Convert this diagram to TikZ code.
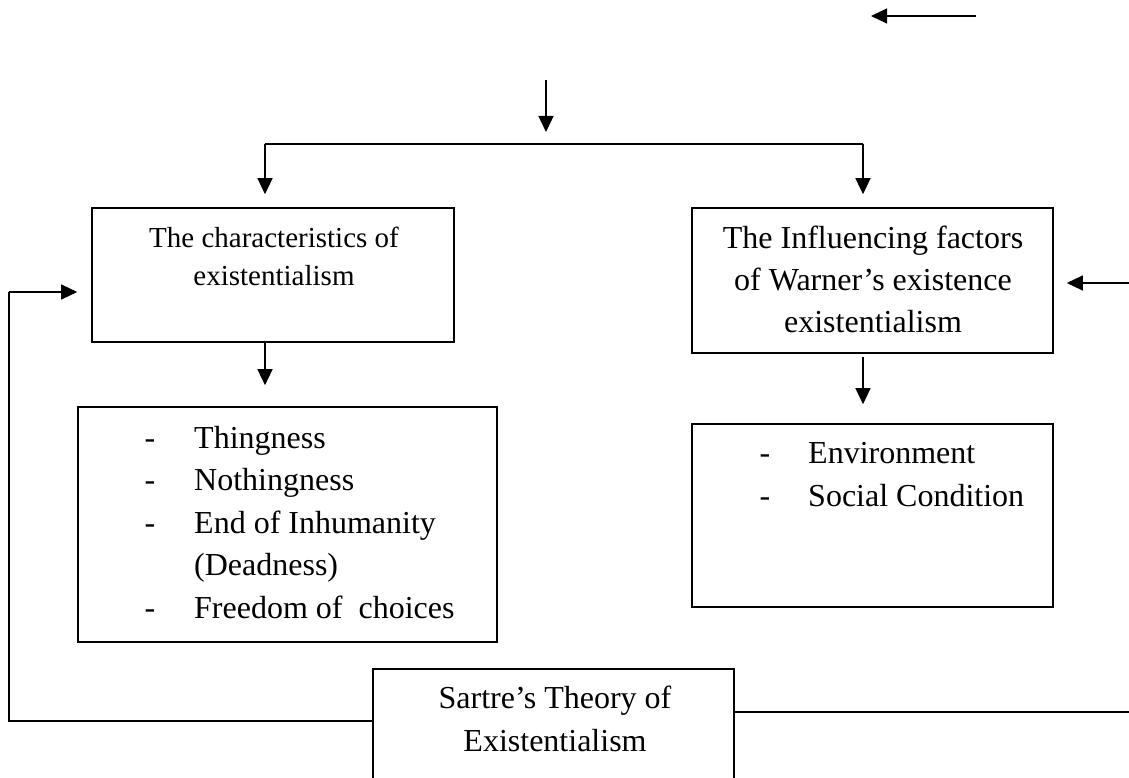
\documentclass[tikz,border=0pt]{standalone}
\usepackage{fontspec}
\setmainfont{Liberation Serif}
\usetikzlibrary{arrows.meta}
\begin{document}
\begin{tikzpicture}[x=1pt,y=-1pt,
  boxstyle/.style={draw,line width=1.6pt,inner sep=0pt,rectangle},
  conn/.style={line width=1.3pt},
  arr/.style={conn,-{Triangle[length=16pt,width=15pt]}},
  smalltxt/.style={inner sep=0pt,font=\fontsize{29}{39}\selectfont},
  bigtxt/.style={inner sep=0pt,font=\fontsize{32}{42}\selectfont}]
\useasboundingbox (0,0) rectangle (1129,778);
\clip (0,0) rectangle (1129,778);
% boxes
\node[boxstyle,minimum width=362pt,minimum height=134pt] (box1) at (273,275) {};
\node[boxstyle,minimum width=361pt,minimum height=145pt] (box2) at (872.5,280.5) {};
\node[boxstyle,minimum width=419pt,minimum height=235pt] (box3) at (287.5,524.5) {};
\node[boxstyle,minimum width=361pt,minimum height=183pt] (box4) at (872.5,515.5) {};
\node[boxstyle,minimum width=361pt,minimum height=140pt] (box5) at (553.5,739) {};
% texts box1
\node[smalltxt,anchor=base] (t1a) at (274,247) {The characteristics of};
\node[smalltxt,anchor=base] (t1b) at (274,285.5) {existentialism};
% texts box2
\node[bigtxt,anchor=base] (t2a) at (873,248) {The Influencing factors};
\node[bigtxt,anchor=base] (t2b) at (873,290) {of Warner’s existence};
\node[bigtxt,anchor=base] (t2c) at (873,332) {existentialism};
% texts box3
\node[bigtxt,anchor=base] (d3a) at (150,448) {-};
\node[bigtxt,anchor=base west] (t3a) at (194,448) {Thingness};
\node[bigtxt,anchor=base] (d3b) at (150,490.5) {-};
\node[bigtxt,anchor=base west] (t3b) at (194,490.5) {Nothingness};
\node[bigtxt,anchor=base] (d3c) at (150,533) {-};
\node[bigtxt,anchor=base west] (t3c) at (194,533) {End of Inhumanity};
\node[bigtxt,anchor=base west] (t3d) at (194,575.5) {(Deadness)};
\node[bigtxt,anchor=base] (d3e) at (150,618) {-};
\node[bigtxt,anchor=base west] (t3e) at (194,618) {Freedom of\ \ choices};
% texts box4
\node[bigtxt,anchor=base] (d4a) at (765,463) {-};
\node[bigtxt,anchor=base west] (t4a) at (808,463) {Environment};
\node[bigtxt,anchor=base] (d4b) at (765,506) {-};
\node[bigtxt,anchor=base west] (t4b) at (808,506) {Social Condition};
% texts box5
\node[bigtxt,anchor=base] (t5a) at (555,708) {Sartre’s Theory of};
\node[bigtxt,anchor=base] (t5b) at (555,751) {Existentialism};
% free-end coordinates
\coordinate (topR) at (976,16);
\coordinate (topL) at (871,16);
\coordinate (vtop) at (546,80);
\coordinate (vbot) at (546,132);
\coordinate (barL) at (265,144);
\coordinate (barR) at (863,144);
\coordinate (rin) at (1129,283);
\coordinate (fbL) at (9,721);
\coordinate (fbT) at (9,292);
\coordinate (rout) at (1129,712);
% connectors
\draw[arr] (topR) -- (topL);
\draw[arr] (vtop) -- (vbot);
\draw[conn,line width=1.6pt] (barL) -- (barR);
\draw[arr,shorten >=13pt] (barL) -- (barL |- box1.north);
\draw[arr,shorten >=13pt] (barR) -- (barR |- box2.north);
\draw[arr,shorten >=21pt] (barL |- box1.south) -- (barL |- box3.north);
\draw[arr,shorten >=19pt,shorten <=3pt] (barR |- box2.south) -- (barR |- box4.north);
\draw[arr,shorten >=13pt] (rin) -- (rin -| box2.east);
\draw[conn] (box5.west |- fbL) -- (fbL) -- (fbT);
\draw[arr,shorten >=14pt] (fbT) -- (fbT -| box1.west);
\draw[conn,line width=1.6pt] (box5.east |- rout) -- (rout);
\end{tikzpicture}
\end{document}
